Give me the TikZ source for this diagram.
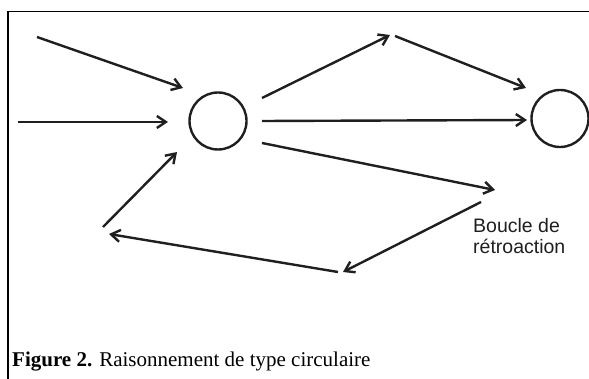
\documentclass[tikz,border=0pt]{standalone}
\usepackage{fontspec}
\setmainfont{Liberation Serif}
\newfontfamily\helv{Liberation Sans}
\usetikzlibrary{arrows.meta}

\begin{document}
\begin{tikzpicture}[%
      x=1pt, y=-1pt,
      fleche/.style={color=black!88, line width=2.4pt,
        -{Straight Barb[length=9pt,width=12pt,line width=2.4pt]}},
      rond/.style={circle, draw=black!88, line width=2.4pt,
        minimum size=57pt, inner sep=0pt},
      ]
      \useasboundingbox (0,0) rectangle (589,379);
      \draw [color=black, line width=1.2pt] (8,379) -- (8,11.5) -- (589,11.5);

      \node [rond] (c1) at (218,121) {};
      \node [rond] (c2) at (560,118.5) {};

      \coordinate (e1a) at (37,37);
      \coordinate (e1b) at (183,88);
      \coordinate (e2a) at (18,122);
      \coordinate (e2b) at (168,122);
      \coordinate (s1a) at (262,98);
      \coordinate (s1b) at (390,35);
      \coordinate (ha) at (395,36);
      \coordinate (hb) at (526,88);
      \coordinate (s2a) at (262,121);
      \coordinate (s2b) at (527,120);
      \coordinate (s3a) at (262,143);
      \coordinate (s3b) at (495,190);
      \coordinate (r1a) at (481,202);
      \coordinate (r1b) at (343,272);
      \coordinate (r2a) at (338,272);
      \coordinate (r2b) at (109,234);
      \coordinate (r3a) at (103,227);
      \coordinate (r3b) at (177,152);

      \draw [fleche] (e1a) -- (e1b);
      \draw [fleche] (e2a) -- (e2b);
      \draw [fleche] (s1a) -- (s1b);
      \draw [fleche] (ha) -- (hb);
      \draw [fleche] (s2a) -- (s2b);
      \draw [fleche] (s3a) -- (s3b);
      \draw [fleche] (r1a) -- (r1b);
      \draw [fleche] (r2a) -- (r2b);
      \draw [fleche] (r3a) -- (r3b);

      \node [anchor=base west, align=left, inner sep=0pt, color=black!88,
        font=\helv\fontsize{19.5}{21}\selectfont] (boucle) at (473,254)
        {Boucle de\\r\'etroaction};
      \node [anchor=base west, inner sep=0pt,
        font=\fontsize{21}{23}\selectfont] (legende) at (12,366)
        {\textbf{Figure 2.} Raisonnement de type circulaire};
\end{tikzpicture}
\end{document}
